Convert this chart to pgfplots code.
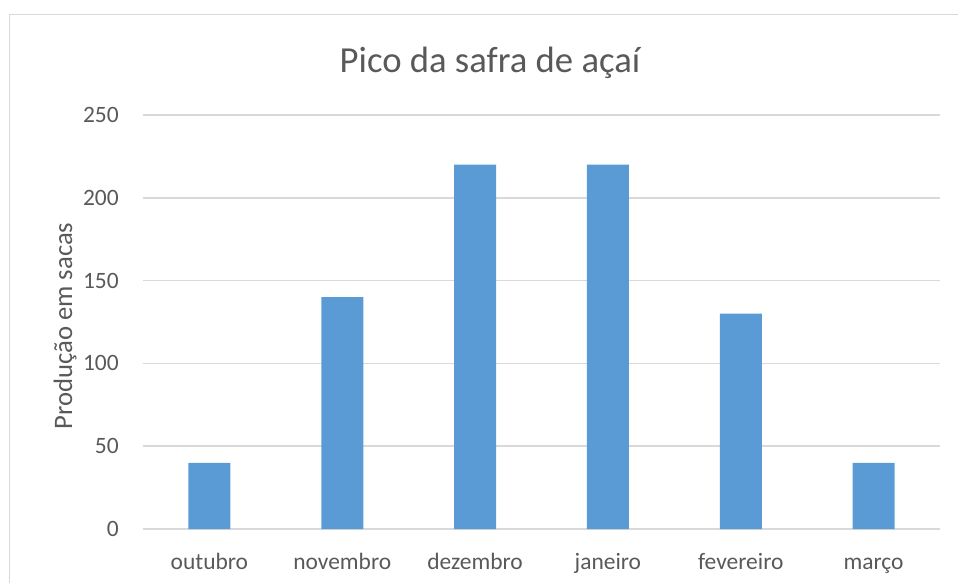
\documentclass[border=0pt]{standalone}
\usepackage{pgfplots}
\pgfplotsset{compat=1.18}
\usepackage{fontspec}
\setmainfont{Carlito}
\definecolor{txt}{HTML}{595959}
\definecolor{grd}{HTML}{D9D9D9}
\definecolor{bar}{HTML}{5B9BD5}
\begin{document}
\begin{tikzpicture}[x=0.75pt,y=0.75pt]
\path[use as bounding box] (0,0) rectangle (958,583);
\draw[grd, line width=1.2pt] (9.5,0) -- (9.5,568.5) -- (958,568.5);
\begin{axis}[
  at={(107.25pt,40.5pt)}, anchor=south west,
  scale only axis,
  width=597.75pt, height=310.5pt,
  xmin=-0.5, xmax=5.5, ymin=0, ymax=250,
  axis line style={draw=none},
  ytick={0,50,100,150,200,250},
  xtick={0,1,2,3,4,5},
  xticklabels={outubro,novembro,dezembro,janeiro,fevereiro,março},
  major tick length=0pt,
  ymajorgrids,
  grid style={grd, line width=1.1pt},
  /pgf/number format/assume math mode=true,
  ticklabel style={font=\fontsize{17.6}{20}\selectfont, text=txt},
  yticklabel style={anchor=east, inner sep=0pt, xshift=-18pt},
  xticklabel style={anchor=base, inner sep=0pt, yshift=-30pt},
  clip=false,
]
\addplot[ybar, bar width=31.5pt, fill=bar, draw=none] coordinates {
  (0,40) (1,140) (2,220) (3,220) (4,130) (5,40)
};
\end{axis}
\node[anchor=base, text=txt, font=\fontsize{27.5}{32}\selectfont, inner sep=0pt] at (490,510) {Pico da safra de açaí};
\node[anchor=base, rotate=90, text=txt, font=\fontsize{20}{24}\selectfont, inner sep=0pt] at (72,257) {Produção em sacas};
\end{tikzpicture}
\end{document}
